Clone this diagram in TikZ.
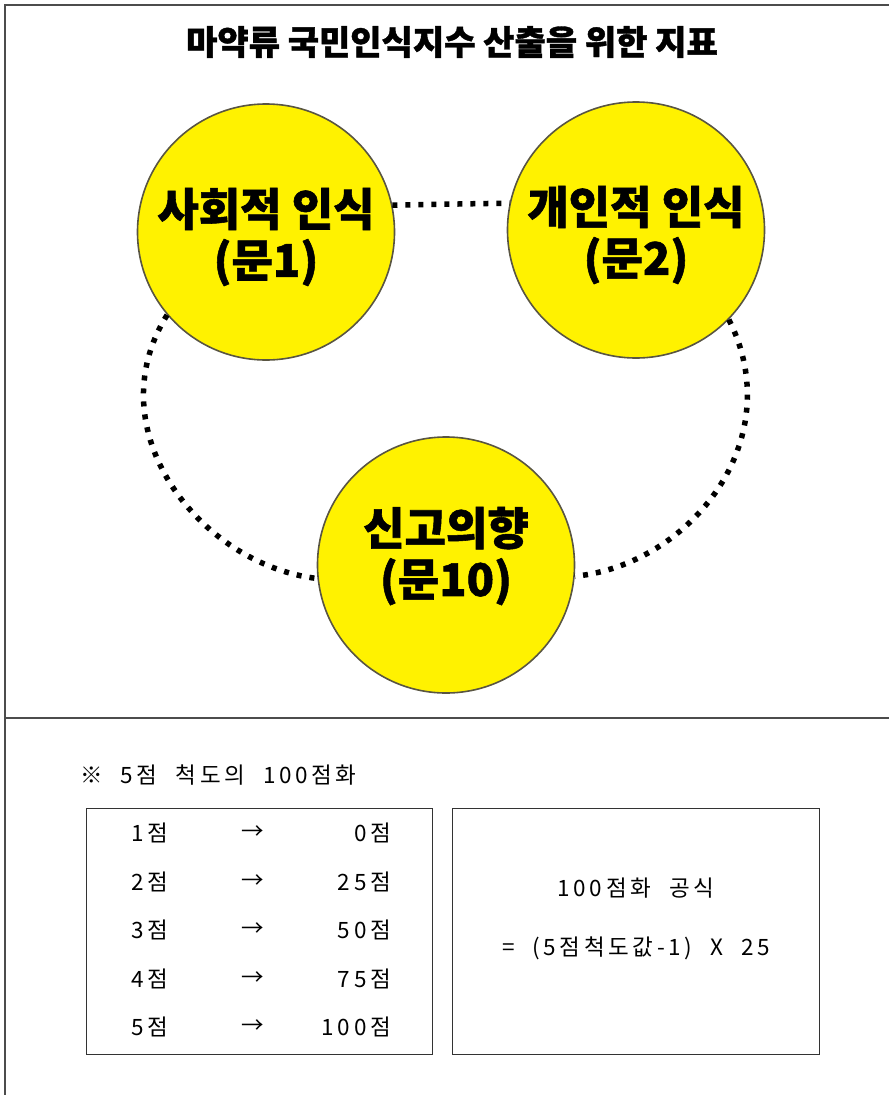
\documentclass[tikz,border=0pt]{standalone}
\usepackage{fontspec}
\usetikzlibrary{shapes.geometric}
\setmainfont{Noto Sans CJK KR}
\newfontfamily\kor{Noto Sans CJK KR}
\newfontfamily\korh{Noto Sans CJK KR}[BoldFeatures={FakeBold=1.2}]
\newfontfamily\kors{Noto Sans CJK KR}[LetterSpace=16,WordSpace=2.1]
\begin{document}
\begin{tikzpicture}[x=1pt,y=-1pt,
  frame/.style={draw=black!70,line width=1.2pt},
  bubble/.style={ellipse,fill=yellow,draw=black!75!yellow,line width=1.6pt,
    minimum width=257pt,minimum height=256pt,inner sep=0pt},
  btext/.style={align=center,inner sep=0pt,
    font=\korh\bfseries\fontsize{45}{51}\selectfont},
  dots/.style={draw=black,line width=5.5pt,dash pattern=on 5pt off 8pt},
  tbox/.style={draw=black!80,line width=1pt},
  cell/.style={font=\kors\fontsize{22.5}{24}\selectfont,inner sep=0pt}]
\useasboundingbox (0,0) rectangle (889,1095);
% frame
\draw[frame] (5,1095) -- (5,5) -- (889,5);
\draw[frame] (5,718) -- (889,718);
% title
\node[font=\korh\bfseries\fontsize{34}{40}\selectfont] (title) at (452,42) {마약류 국민인식지수 산출을 위한 지표};
% circles
\node[bubble] (s1) at (266,232) {};
\node[bubble] (s2) at (636,230) {};
\node[bubble] (s10) at (446,565) {};
\node[btext,yshift=-5pt] (t1) at (s1.center) {사회적 인식\\(문1)};
\node[btext,yshift=-5pt] (t2) at (s2.center) {개인적 인식\\(문2)};
\node[btext,yshift=9pt] (t10) at (s10.center) {신고의향\\(문10)};
% dotted connectors
\draw[dots] (s1.12) -- (s2.168);
\draw[dots] (s1.220) .. controls (95,430) and (200,565) .. (s10.186);
\draw[dots] (s2.-44) .. controls (790,440) and (690,565) .. (s10.-5);
% scale note
\node[cell,anchor=west] (note) at (80,775) {※ 5점 척도의 100점화};
\node[tbox,minimum width=346pt,minimum height=246pt,anchor=north west] (lbox) at (86,808) {};
\node[tbox,minimum width=367pt,minimum height=246pt,anchor=north west] (rbox) at (452,808) {};
\foreach \va/\vb [count=\i] in {1/0,2/25,3/50,4/75,5/100}{
  \node[cell] (l\i) at (150,{833+(\i-1)*48.5}) {\va{}점};
  \node[cell] (m\i) at (253,{833+(\i-1)*48.5}) {→};
  \node[cell,anchor=east] (r\i) at (391,{833+(\i-1)*48.5}) {\vb{}점};
}
\node[cell,yshift=43pt] (f1) at (rbox.center) {100점화 공식};
\node[cell,yshift=-17pt] (f2) at (rbox.center) {= (5점척도값-1) X 25};
\end{tikzpicture}
\end{document}
